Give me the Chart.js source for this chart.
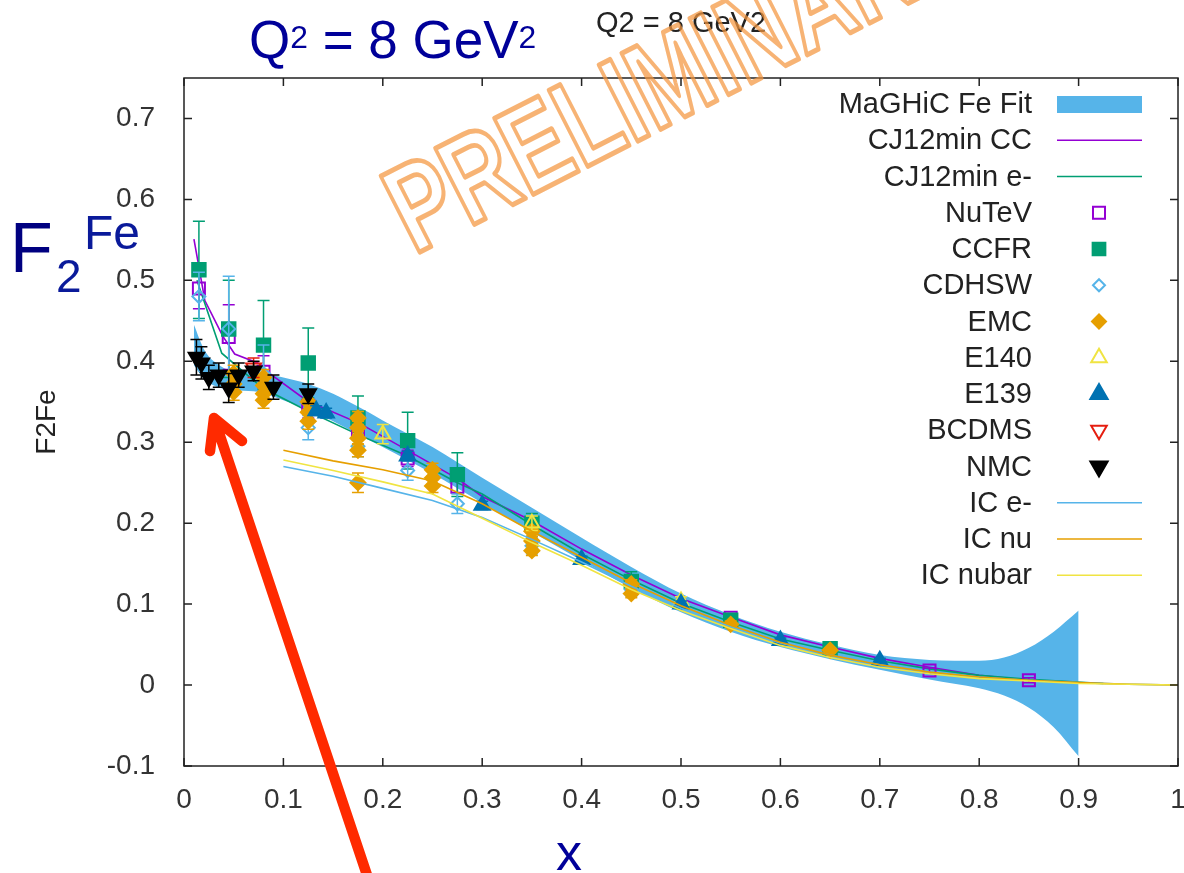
<!DOCTYPE html>
<html>
<head>
<meta charset="utf-8">
<script src="https://cdn.jsdelivr.net/npm/chart.js@4.4.1/dist/chart.umd.min.js"></script>
<style>
  html, body { margin: 0; padding: 0; background: #fff; }
  #wrap { position: relative; width: 1184px; height: 873px; overflow: hidden; }
  #c { position: absolute; left: 0; top: 0; }
  .t { position: absolute; font-family: "Liberation Sans", Arial, sans-serif; line-height: 1; white-space: nowrap; }
  .t sup { font-size: 0.6em; line-height: 0; vertical-align: 0.32em; }
</style>
</head>
<body>
<div id="wrap">
  <canvas id="c" width="1184" height="873" style="width:1184px;height:873px"></canvas>
  <div class="t" style="left:249px;top:13px;font-size:53px;color:#000099">Q<sup>2</sup> = 8 GeV<sup>2</sup></div>
  <div class="t" style="left:10px;top:213px;font-size:70px;color:#000080">F</div>
  <div class="t" style="left:56px;top:253px;font-size:46px;color:#0a1a9a">2</div>
  <div class="t" style="left:84px;top:209px;font-size:48px;color:#0a1a9a">Fe</div>
  <div class="t" style="left:556px;top:826px;font-size:52px;color:#000099">x</div>
</div>
<script>
// axis ticks
const xTicks = [0, 0.1, 0.2, 0.3, 0.4, 0.5, 0.6, 0.7, 0.8, 0.9, 1];
const yTicks = [-0.1, 0, 0.1, 0.2, 0.3, 0.4, 0.5, 0.6, 0.7];

// MaGHiC Fe fit band
const bandX  = [0.01, 0.02, 0.03, 0.05, 0.07, 0.1, 0.125, 0.15, 0.175, 0.2, 0.25, 0.3, 0.35, 0.4, 0.45, 0.5, 0.55, 0.6, 0.65, 0.7, 0.75, 0.8, 0.825, 0.85, 0.875, 0.9];
const bandHi = [0.445, 0.415, 0.400, 0.388, 0.387, 0.380, 0.372, 0.360, 0.344, 0.327, 0.294, 0.256, 0.219, 0.182, 0.146, 0.113, 0.087, 0.066, 0.050, 0.037, 0.031, 0.030, 0.034, 0.046, 0.066, 0.092];
const bandLo = [0.395, 0.378, 0.370, 0.364, 0.363, 0.352, 0.340, 0.326, 0.310, 0.294, 0.261, 0.225, 0.189, 0.154, 0.120, 0.090, 0.066, 0.047, 0.032, 0.019, 0.007, -0.004, -0.013, -0.028, -0.052, -0.088];

// CJ12min curves
const ccX = [0.01, 0.021, 0.039, 0.051, 0.076, 0.087, 0.124, 0.177, 0.225, 0.275, 0.3, 0.35, 0.4, 0.45, 0.5, 0.55, 0.6, 0.65, 0.7, 0.75, 0.8, 0.85];
const ccY = [0.551, 0.475, 0.431, 0.409, 0.397, 0.384, 0.351, 0.323, 0.29, 0.255, 0.233, 0.203, 0.168, 0.136, 0.107, 0.084, 0.062, 0.047, 0.033, 0.022, 0.012, 0.006];
const emX = [0.013, 0.038, 0.079, 0.124, 0.174, 0.225, 0.275, 0.3, 0.35, 0.4, 0.45, 0.5, 0.55, 0.6, 0.65, 0.7, 0.75, 0.8, 0.85, 0.925];
const emY = [0.50, 0.41, 0.367, 0.339, 0.31, 0.283, 0.25, 0.236, 0.198, 0.162, 0.13, 0.101, 0.078, 0.057, 0.043, 0.03, 0.02, 0.012, 0.007, 0.002];

// IC curves
const icX      = [0.1, 0.15, 0.2, 0.25, 0.3, 0.35, 0.4, 0.45, 0.5, 0.55, 0.6, 0.65, 0.7, 0.75, 0.8, 0.85, 0.9, 0.95, 1.0];
const icEY     = [0.270, 0.258, 0.243, 0.228, 0.207, 0.180, 0.152, 0.122, 0.095, 0.072, 0.052, 0.037, 0.025, 0.016, 0.010, 0.006, 0.003, 0.001, 0.0];
const icNuY    = [0.290, 0.277, 0.266, 0.252, 0.224, 0.190, 0.158, 0.126, 0.098, 0.074, 0.053, 0.037, 0.025, 0.016, 0.010, 0.006, 0.003, 0.001, 0.0];
const icNubarY = [0.278, 0.265, 0.251, 0.236, 0.206, 0.176, 0.148, 0.118, 0.092, 0.070, 0.049, 0.034, 0.022, 0.014, 0.008, 0.005, 0.002, 0.001, 0.0];

// data sets (x, F2, error)
const nutevX = [0.015, 0.045, 0.08, 0.125, 0.175, 0.225, 0.275, 0.35, 0.45, 0.55, 0.65, 0.75, 0.85];
const nutevY = [0.49, 0.43, 0.387, 0.345, 0.315, 0.28, 0.245, 0.198, 0.128, 0.083, 0.045, 0.018, 0.006];
const nutevE = [0.025, 0.04, 0.02, 0.015, 0.012, 0.01, 0.008, 0.007, 0.005, 0.004, 0.003, 0.003, 0.003];

const ccfrX = [0.015, 0.045, 0.08, 0.125, 0.175, 0.225, 0.275, 0.35, 0.45, 0.55, 0.65];
const ccfrY = [0.513, 0.44, 0.42, 0.398, 0.33, 0.302, 0.26, 0.2, 0.128, 0.08, 0.045];
const ccfrE = [0.06, 0.06, 0.055, 0.043, 0.027, 0.035, 0.027, 0.012, 0.012, 0.006, 0.005];

const cdhswX = [0.015, 0.045, 0.08, 0.125, 0.175, 0.225, 0.275, 0.35, 0.45];
const cdhswY = [0.48, 0.44, 0.385, 0.318, 0.295, 0.265, 0.224, 0.172, 0.118];
const cdhswE = [0.03, 0.065, 0.035, 0.015, 0.013, 0.012, 0.012, 0.01, 0.008];

const emcX = [0.05, 0.05, 0.05, 0.08, 0.08, 0.08, 0.08, 0.125, 0.125, 0.125, 0.175, 0.175, 0.175, 0.175, 0.175, 0.25, 0.25, 0.25, 0.35, 0.35, 0.35, 0.45, 0.45, 0.55, 0.65];
const emcY = [0.385, 0.372, 0.362, 0.38, 0.37, 0.36, 0.352, 0.35, 0.337, 0.326, 0.33, 0.318, 0.305, 0.29, 0.25, 0.266, 0.256, 0.246, 0.19, 0.178, 0.166, 0.125, 0.113, 0.075, 0.043];
const emcE = [0.01, 0.01, 0.01, 0.01, 0.01, 0.01, 0.01, 0.01, 0.01, 0.01, 0.008, 0.008, 0.008, 0.008, 0.012, 0.008, 0.008, 0.008, 0.006, 0.006, 0.006, 0.005, 0.005, 0.004, 0.003];

const e140X = [0.2, 0.35, 0.5];
const e140Y = [0.31, 0.2, 0.104];
const e140E = [0.012, 0.009, 0.005];

const e139X = [0.133, 0.143, 0.225, 0.3, 0.4, 0.5, 0.6, 0.7];
const e139Y = [0.339, 0.336, 0.283, 0.222, 0.155, 0.1, 0.055, 0.03];
const e139E = [0.006, 0.006, 0.006, 0.005, 0.004, 0.004, 0.003, 0.003];

const bcdmsX = [0.07];
const bcdmsY = [0.392];
const bcdmsE = [0.012];

const nmcX = [0.0125, 0.0175, 0.025, 0.035, 0.045, 0.055, 0.07, 0.09, 0.125];
const nmcY = [0.405, 0.398, 0.38, 0.383, 0.367, 0.383, 0.388, 0.368, 0.36];
const nmcE = [0.022, 0.02, 0.015, 0.015, 0.018, 0.015, 0.012, 0.015, 0.012];

const xy = (xs, ys) => xs.map((x, i) => ({ x: x, y: ys[i] }));
const xye = (xs, ys, es) => xs.map((x, i) => ({ x: x, y: ys[i], e: es[i] }));

function curve(label, xs, ys, color) {
  return { label, data: xy(xs, ys), showLine: true, borderColor: color, borderWidth: 1.6,
           pointRadius: 0, tension: 0, keyType: 'line' };
}
function points(label, xs, ys, es, style, color, fill, r, keyR, rot) {
  return { label, data: xye(xs, ys, es), showLine: false, pointStyle: style, rotation: rot || 0,
           pointRadius: r, keyRadius: keyR, pointBorderWidth: 2, borderWidth: 2, borderColor: color,
           backgroundColor: fill, pointBackgroundColor: fill, pointBorderColor: color,
           errorBars: true, keyType: 'point' };
}

const datasets = [
  { label: 'lo', data: xy(bandX, bandLo), showLine: true, borderWidth: 0, pointRadius: 0,
    cubicInterpolationMode: 'monotone', fill: false },
  { label: 'MaGHiC Fe Fit', data: xy(bandX, bandHi), showLine: true, borderWidth: 0, pointRadius: 0,
    cubicInterpolationMode: 'monotone', fill: '-1', backgroundColor: '#56B4E9', keyType: 'band' },
  curve('CJ12min CC', ccX, ccY, '#9400D3'),
  curve('CJ12min e-', emX, emY, '#009E73'),
  points('NuTeV', nutevX, nutevY, nutevE, 'rect', '#9400D3', 'rgba(255,255,255,0)', 8.5, 8.5),
  points('CCFR', ccfrX, ccfrY, ccfrE, 'rect', '#009E73', '#009E73', 9.5, 9),
  points('CDHSW', cdhswX, cdhswY, cdhswE, 'rectRot', '#56B4E9', 'rgba(255,255,255,0)', 6.5, 6),
  points('EMC', emcX, emcY, emcE, 'rectRot', '#E69F00', '#E69F00', 7.5, 7),
  points('E140', e140X, e140Y, e140E, 'triangle', '#F0E442', 'rgba(255,255,255,0)', 8.5, 9),
  points('E139', e139X, e139Y, e139E, 'triangle', '#0072B2', '#0072B2', 9, 10),
  points('BCDMS', bcdmsX, bcdmsY, bcdmsE, 'triangle', '#E51E10', 'rgba(255,255,255,0)', 8.5, 9, 180),
  points('NMC', nmcX, nmcY, nmcE, 'triangle', '#000000', '#000000', 9, 10, 180),
  curve('IC e-', icX, icEY, '#56B4E9'),
  curve('IC nu', icX, icNuY, '#E69F00'),
  curve('IC nubar', icX, icNubarY, '#F0E442')
];
datasets.forEach((d, i) => { d.order = -i; });

const FONT = '"Liberation Sans", Arial, sans-serif';
const fmt = v => (Math.abs(v) < 1e-9 ? '0' : String(+v.toFixed(1)));

// error bars drawn just before each dataset's markers
const errorBars = {
  id: 'errorBars',
  beforeDatasetDraw(chart, args) {
    const ds = chart.data.datasets[args.index];
    if (!ds.errorBars) return;
    const { ctx, scales: { x, y } } = chart;
    ctx.save();
    ctx.strokeStyle = ds.borderColor;
    ctx.lineWidth = 1.5;
    ds.data.forEach(p => {
      const px = x.getPixelForValue(p.x);
      const y1 = y.getPixelForValue(p.y + p.e);
      const y2 = y.getPixelForValue(p.y - p.e);
      ctx.beginPath();
      ctx.moveTo(px, y1); ctx.lineTo(px, y2);
      ctx.moveTo(px - 6, y1); ctx.lineTo(px + 6, y1);
      ctx.moveTo(px - 6, y2); ctx.lineTo(px + 6, y2);
      ctx.stroke();
    });
    ctx.restore();
  }
};

// border, mirrored inward ticks, key, arrow and watermark
const decor = {
  id: 'decor',
  afterDraw(chart) {
    const { ctx, chartArea: a, scales: { x, y } } = chart;
    ctx.save();
    ctx.strokeStyle = '#222';
    ctx.lineWidth = 1.5;
    ctx.strokeRect(a.left, a.top, a.right - a.left, a.bottom - a.top);
    ctx.beginPath();
    xTicks.forEach(v => {
      const px = x.getPixelForValue(v);
      ctx.moveTo(px, a.bottom); ctx.lineTo(px, a.bottom - 8);
      ctx.moveTo(px, a.top); ctx.lineTo(px, a.top + 8);
    });
    yTicks.forEach(v => {
      const py = y.getPixelForValue(v);
      ctx.moveTo(a.left, py); ctx.lineTo(a.left + 8, py);
      ctx.moveTo(a.right, py); ctx.lineTo(a.right - 8, py);
    });
    ctx.stroke();

    // key
    const rows = chart.data.datasets.filter(d => d.keyType);
    ctx.font = '29px ' + FONT;
    ctx.textAlign = 'right';
    ctx.textBaseline = 'middle';
    rows.forEach((d, i) => {
      const ky = 104 + i * 36.25;
      ctx.fillStyle = '#222';
      ctx.fillText(d.label, 1032, ky + 1);
      if (d.keyType === 'band') {
        ctx.fillStyle = d.backgroundColor;
        ctx.fillRect(1057, ky - 8, 85, 17);
      } else if (d.keyType === 'line') {
        ctx.strokeStyle = d.borderColor;
        ctx.lineWidth = 1.6;
        ctx.beginPath(); ctx.moveTo(1057, ky); ctx.lineTo(1142, ky); ctx.stroke();
      } else {
        ctx.fillStyle = d.backgroundColor;
        ctx.strokeStyle = d.borderColor;
        ctx.lineWidth = 2;
        Chart.helpers.drawPoint(ctx, { pointStyle: d.pointStyle, rotation: d.rotation,
          radius: d.keyRadius, borderWidth: 2 }, 1099, ky);
      }
    });

    // red arrow
    ctx.strokeStyle = '#ff2a00';
    ctx.lineWidth = 10.5;
    ctx.lineCap = 'round';
    ctx.lineJoin = 'round';
    ctx.beginPath();
    ctx.moveTo(372, 890); ctx.lineTo(214, 418);
    ctx.moveTo(210, 451); ctx.lineTo(214, 418); ctx.lineTo(242, 441);
    ctx.stroke();

    // watermark
    ctx.translate(414, 255);
    ctx.rotate(-27 * Math.PI / 180);
    ctx.scale(0.74, 1);
    ctx.font = 'bold 124px ' + FONT;
    ctx.textAlign = 'left';
    ctx.textBaseline = 'alphabetic';
    ctx.lineWidth = 5;
    ctx.strokeStyle = 'rgba(244,150,62,0.72)';
    ctx.strokeText('PRELIMINARY', 0, 0);
    ctx.restore();
  }
};

new Chart(document.getElementById('c'), {
  type: 'scatter',
  data: { datasets },
  options: {
    responsive: false,
    animation: false,
    layout: { autoPadding: false, padding: { left: 0, right: 6, top: 0, bottom: 0 } },
    plugins: {
      legend: { display: false },
      tooltip: { enabled: false },
      title: { display: true, text: 'Q2 = 8 GeV2', fullSize: false, color: '#222',
               font: { family: FONT, size: 29, weight: 'normal' }, padding: { top: 7, bottom: 36.2 } }
    },
    scales: {
      x: {
        type: 'linear', min: 0, max: 1,
        grid: { display: false, drawTicks: false }, border: { display: false },
        afterBuildTicks: s => { s.ticks = xTicks.map(v => ({ value: v })); },
        afterFit: s => { s.height = 107; s.paddingLeft = 0; s.paddingRight = 0; },
        ticks: { callback: fmt, color: '#333', padding: 17, maxRotation: 0,
                 font: { family: FONT, size: 28 } }
      },
      y: {
        type: 'linear', min: -0.1, max: 0.75,
        grid: { display: false, drawTicks: false }, border: { display: false },
        afterBuildTicks: s => { s.ticks = yTicks.map(v => ({ value: v })); },
        afterFit: s => { s.width = 184; },
        ticks: { callback: fmt, color: '#333', padding: 29, font: { family: FONT, size: 28 } },
        title: { display: true, text: 'F2Fe', color: '#222', font: { family: FONT, size: 28 },
                 padding: { top: 30, bottom: 0 } }
      }
    }
  },
  plugins: [errorBars, decor]
});
</script>
</body>
</html>
